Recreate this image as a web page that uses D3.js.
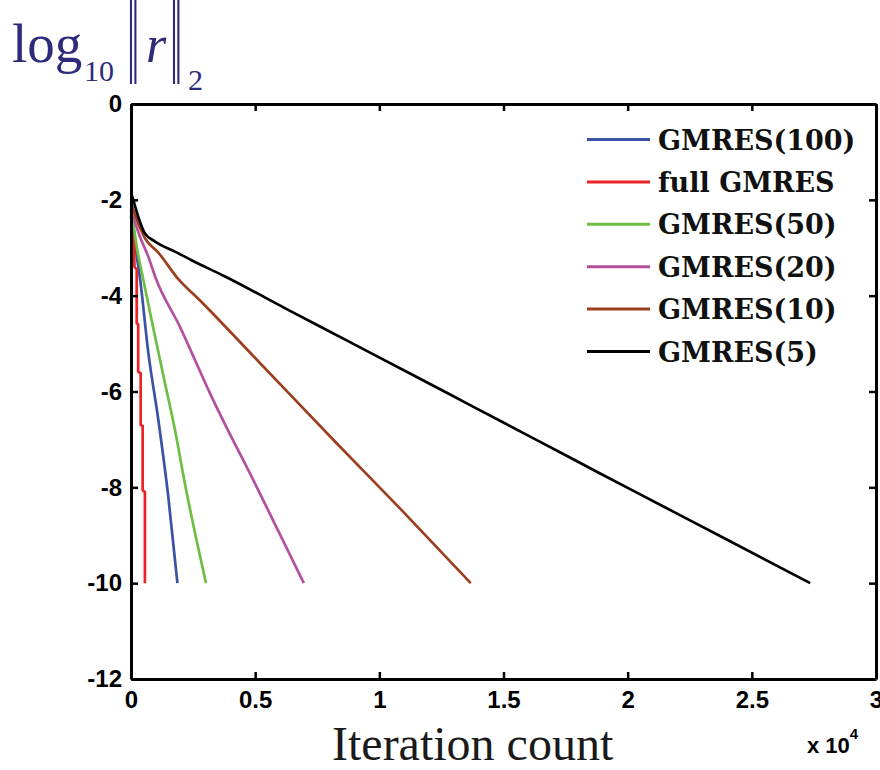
<!DOCTYPE html>
<html lang="en">
<head>
<meta charset="UTF-8">
<title>GMRES convergence</title>
<script src="https://d3js.org/d3.v7.min.js"></script>
<style>
  body { margin: 0; background: #fff; }
</style>
</head>
<body>
<svg width="880" height="770"></svg>
<script>
// x = iteration count in units of 10^4, y = log10 of the residual norm
var labels = ["GMRES(100)", "full GMRES", "GMRES(50)", "GMRES(20)", "GMRES(10)", "GMRES(5)"];
var colors = ["#3a53a4", "#ec2227", "#6fbe44", "#b5509f", "#9b3f1f", "#000000"];

var gmres100 = [[0,-2.35],[0.015,-2.9],[0.036,-3.63],[0.07,-5.2],[0.11,-6.59],[0.15,-8.19],[0.187,-10]];
var fullGmres = [[0,-2.2],[0.012,-2.78],[0.014,-3.4],[0.023,-3.45],[0.023,-4.57],[0.029,-4.6],[0.029,-5.59],
                 [0.039,-5.62],[0.039,-6.7],[0.047,-6.72],[0.047,-8.06],[0.056,-8.1],[0.056,-10]];
var gmres50 = [[0,-2.3],[0.009,-2.49],[0.023,-2.98],[0.043,-3.5],[0.083,-4.51],[0.137,-5.83],[0.177,-6.8],[0.217,-7.92],[0.302,-10]];
var gmres20 = [[0,-2.25],[0.008,-2.35],[0.036,-2.77],[0.07,-3.19],[0.097,-3.6],[0.197,-4.65],[0.331,-6.18],[0.506,-7.99],[0.696,-10]];
var gmres10 = [[0,-2.05],[0.009,-2.21],[0.029,-2.49],[0.056,-2.8],[0.11,-3.1],[0.19,-3.65],[0.278,-4.1],[0.52,-5.41],
               [0.828,-7.08],[1.083,-8.44],[1.368,-10]];
var gmres5 = [[0,-1.85],[0.009,-2.0],[0.029,-2.35],[0.056,-2.7],[0.097,-2.87],[0.177,-3.08],[0.244,-3.26],[0.379,-3.6],
              [0.627,-4.28],[0.882,-4.97],[1.137,-5.66],[1.379,-6.32],[1.64,-7.03],[1.889,-7.71],[2.144,-8.4],[2.399,-9.09],[2.735,-10]];

var xTicks = [0, 0.5, 1, 1.5, 2, 2.5, 3];
var yTicks = [0, -2, -4, -6, -8, -10, -12];

var allSeries = [gmres100, fullGmres, gmres50, gmres20, gmres10, gmres5];

var svg = d3.select("svg");
var x = d3.scaleLinear().domain([0, 3]).range([131, 876]);
var y = d3.scaleLinear().domain([-12, 0]).range([679, 104]);

var tickFont = "'Liberation Sans', Arial, sans-serif";

// curves: full GMRES is a staircase, the restarted ones are smooth
var smooth = d3.line().x(d => x(d[0])).y(d => y(d[1])).curve(d3.curveMonotoneX);
var straight = d3.line().x(d => x(d[0])).y(d => y(d[1]));
svg.selectAll("path.curve")
    .data(allSeries)
    .enter().append("path")
    .attr("class", "curve")
    .attr("d", d => d === fullGmres ? straight(d) : smooth(d))
    .attr("fill", "none")
    .attr("stroke", (d, i) => colors[i])
    .attr("stroke-width", 2.7)
    .attr("stroke-linejoin", "round");

// box with inward ticks on all four sides
function styleAxis(g) {
    g.select(".domain").attr("stroke", "#000").attr("stroke-width", 3);
    g.selectAll(".tick line").attr("stroke", "#000").attr("stroke-width", 2.5);
    g.selectAll("text")
        .attr("font-family", tickFont)
        .attr("font-weight", "bold")
        .attr("font-size", 24)
        .attr("fill", "#000");
}

svg.append("g")
    .attr("transform", "translate(0,679)")
    .call(d3.axisBottom(x).tickValues(xTicks).tickSizeInner(-7).tickSizeOuter(0).tickPadding(12)
        .tickFormat(d3.format("")))
    .call(styleAxis);

svg.append("g")
    .attr("transform", "translate(0,104)")
    .call(d3.axisTop(x).tickValues(xTicks).tickSizeInner(-7).tickSizeOuter(0).tickFormat(""))
    .call(styleAxis);

svg.append("g")
    .attr("transform", "translate(131,0)")
    .call(d3.axisLeft(y).tickValues(yTicks).tickSizeInner(-7).tickSizeOuter(0).tickPadding(9)
        .tickFormat(d => d3.format("")(d).replace("\u2212", "-")))
    .call(styleAxis);

svg.append("g")
    .attr("transform", "translate(876,0)")
    .call(d3.axisRight(y).tickValues(yTicks).tickSizeInner(-7).tickSizeOuter(0).tickFormat(""))
    .call(styleAxis);

// exponent note under the x axis
var expo = svg.append("text")
    .attr("x", 807).attr("y", 753)
    .attr("font-family", tickFont).attr("font-weight", "bold").attr("font-size", 22)
    .text("x 10");
expo.append("tspan").attr("dy", -14).attr("font-size", 15).text("4");

// x axis title
svg.append("text")
    .attr("x", 332).attr("y", 760)
    .attr("font-family", "'Liberation Serif', 'Times New Roman', serif")
    .attr("font-size", 48)
    .attr("fill", "#1a1a1a")
    .text("Iteration count");

// y axis title: log10 ||r||2
var ylab = svg.append("g").attr("fill", "#2e2b7c")
    .attr("font-family", "'Liberation Serif', 'Times New Roman', serif");
ylab.append("text").attr("x", 12).attr("y", 62).attr("font-size", 55).text("log");
ylab.append("text").attr("x", 84).attr("y", 81).attr("font-size", 30).text("10");
ylab.append("text").attr("transform", "translate(127,84) scale(1,3.4)").attr("font-size", 44).text("\u2016");
ylab.append("text").attr("x", 146).attr("y", 62).attr("font-size", 52).attr("font-style", "italic").text("r");
ylab.append("text").attr("transform", "translate(170,84) scale(1,3.4)").attr("font-size", 44).text("\u2016");
ylab.append("text").attr("x", 188).attr("y", 90).attr("font-size", 30).text("2");

// legend
var leg = svg.append("g").selectAll("g")
    .data(labels)
    .enter().append("g")
    .attr("transform", (d, i) => "translate(0," + (139.5 + i * 42.4) + ")");
leg.append("line")
    .attr("x1", 587).attr("x2", 650)
    .attr("stroke", (d, i) => colors[i])
    .attr("stroke-width", 3);
leg.append("text")
    .attr("x", 658).attr("y", 10)
    .attr("font-family", "'DejaVu Serif', serif")
    .attr("font-weight", "bold")
    .attr("font-size", 27)
    .attr("fill", "#111")
    .text(d => d);
</script>
</body>
</html>
